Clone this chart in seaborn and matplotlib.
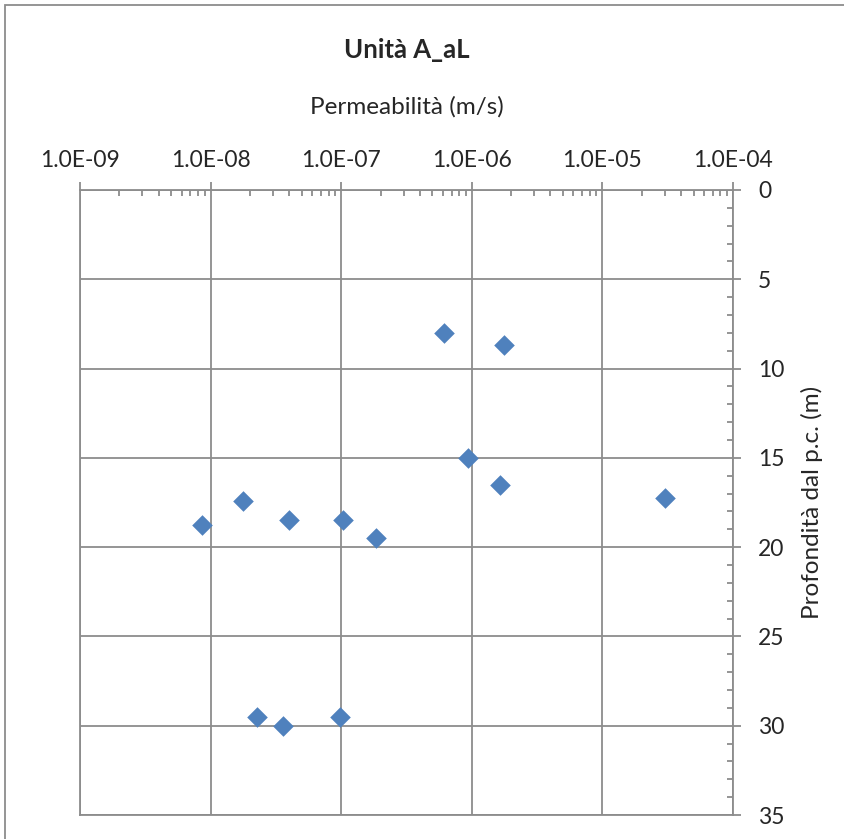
import numpy as np
import pandas as pd
import seaborn as sns
import matplotlib.pyplot as plt
from matplotlib.ticker import LogLocator, FixedLocator, MultipleLocator, NullFormatter

# permeability (m/s) and depth (m)
permeabilita = [6.1e-7, 1.77e-6, 9.4e-7, 1.64e-6, 3.0e-5, 1.77e-8, 8.6e-9,
                4.0e-8, 1.03e-7, 1.85e-7, 2.26e-8, 3.6e-8, 9.8e-8]
profondita = [8.0, 8.7, 15.0, 16.5, 17.25, 17.4, 18.75,
              18.5, 18.5, 19.5, 29.5, 30.0, 29.5]
x_ticks = [1e-9, 1e-8, 1e-7, 1e-6, 1e-5, 1e-4]
x_labels = ['1.0E-09', '1.0E-08', '1.0E-07', '1.0E-06', '1.0E-05', '1.0E-04']
y_ticks = [0, 5, 10, 15, 20, 25, 30, 35]

df = pd.DataFrame({'k': permeabilita, 'z': profondita})

sns.set_style('white')
plt.rcParams['font.family'] = ['Lato', 'DejaVu Sans']

grey = '#8c8c8c'
fig = plt.figure(figsize=(8.45, 8.39), dpi=100)
ax = fig.add_axes([80 / 845, 1 - 815 / 839, 653 / 845, 625 / 839])

sns.scatterplot(data=df, x='k', y='z', marker='D', s=110, color='#4f81bd',
                linewidth=0, ax=ax, zorder=3, clip_on=False)

ax.set_xscale('log')
ax.set_xlim(1e-9, 1e-4)
ax.set_ylim(35, 0)

ax.xaxis.set_major_locator(FixedLocator(x_ticks))
ax.set_xticklabels(x_labels)
ax.xaxis.set_minor_locator(LogLocator(base=10, subs=np.arange(2, 10)))
ax.xaxis.set_minor_formatter(NullFormatter())
ax.yaxis.set_major_locator(FixedLocator(y_ticks))
ax.yaxis.set_minor_locator(MultipleLocator(1))

ax.xaxis.tick_top()
ax.xaxis.set_label_position('top')
ax.yaxis.tick_right()
ax.yaxis.set_label_position('right')

ax.tick_params(axis='both', which='major', direction='out', length=6, width=1.3,
               color=grey, labelsize=16.5)
ax.tick_params(axis='both', which='minor', direction='in', length=4, width=1.3,
               color=grey)
ax.tick_params(axis='x', which='major', pad=8)
ax.tick_params(axis='y', which='major', pad=12)

ax.grid(True, which='major', color=grey, linewidth=1.3)
for sp in ax.spines.values():
    sp.set_color(grey)
    sp.set_linewidth(1.3)

ax.set_xlabel('Permeabilità (m/s)', fontsize=17.5, va='center')
ax.xaxis.set_label_coords(0.5, (815 - 107) / 625)
ax.set_ylabel('Profondità dal p.c. (m)', fontsize=17.5, va='center', ha='center')
ax.yaxis.set_label_coords((812 - 80) / 653, 0.5)
ax.set_title('Unità A_aL', fontsize=18.5, fontweight='bold', va='center',
             y=(815 - 58) / 625)

# chart frame
fig.add_artist(plt.Rectangle((5 / 845, -0.1), 1.2, 1.1 - 5 / 839,
                             transform=fig.transFigure, fill=False,
                             edgecolor=grey, linewidth=1.3))

fig.savefig('out.png', dpi=100)
